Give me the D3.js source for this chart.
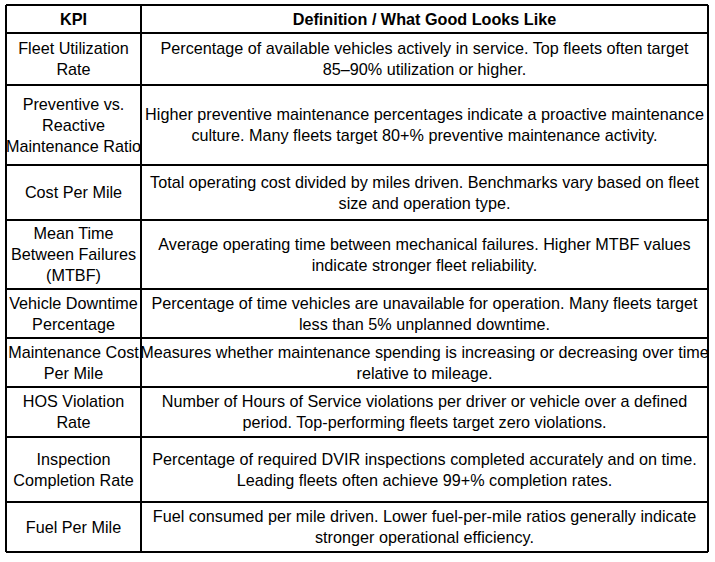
<!DOCTYPE html>
<html lang="en">
<head>
<meta charset="UTF-8">
<script src="https://cdn.jsdelivr.net/npm/d3@7"></script>
<style>
  body { margin: 0; background: #fff; }
  text { font-family: "Liberation Sans", Arial, sans-serif; font-size: 16.2px; fill: #000; }
</style>
</head>
<body>
<svg id="chart" width="715" height="562"></svg>
<script>
const headers = ["KPI", "Definition / What Good Looks Like"];
const kpis = [
  ["Fleet Utilization", "Rate"],
  ["Preventive vs.", "Reactive", "Maintenance Ratio"],
  ["Cost Per Mile"],
  ["Mean Time", "Between Failures", "(MTBF)"],
  ["Vehicle Downtime", "Percentage"],
  ["Maintenance Cost", "Per Mile"],
  ["HOS Violation", "Rate"],
  ["Inspection", "Completion Rate"],
  ["Fuel Per Mile"]
];
const definitions = [
  ["Percentage of available vehicles actively in service. Top fleets often target", "85–90% utilization or higher."],
  ["Higher preventive maintenance percentages indicate a proactive maintenance", "culture. Many fleets target 80+% preventive maintenance activity."],
  ["Total operating cost divided by miles driven. Benchmarks vary based on fleet", "size and operation type."],
  ["Average operating time between mechanical failures. Higher MTBF values", "indicate stronger fleet reliability."],
  ["Percentage of time vehicles are unavailable for operation. Many fleets target", "less than 5% unplanned downtime."],
  ["Measures whether maintenance spending is increasing or decreasing over time", "relative to mileage."],
  ["Number of Hours of Service violations per driver or vehicle over a defined", "period. Top-performing fleets target zero violations."],
  ["Percentage of required DVIR inspections completed accurately and on time.", "Leading fleets often achieve 99+% completion rates."],
  ["Fuel consumed per mile driven. Lower fuel-per-mile ratios generally indicate", "stronger operational efficiency."]
];
// row boundaries
const rowEdges = [5, 33, 85, 165, 220, 289, 338, 387, 437, 502, 552];
const colEdges = [6, 141, 708];
const lineH = 21;

const svg = d3.select("#chart");
const defs = svg.append("defs");

function cell(c, r, lines, bold) {
  const x0 = colEdges[c], x1 = colEdges[c + 1];
  const y0 = rowEdges[r], y1 = rowEdges[r + 1];
  const id = `clip-${c}-${r}`;
  defs.append("clipPath").attr("id", id).append("rect")
    .attr("x", x0).attr("y", y0).attr("width", x1 - x0).attr("height", y1 - y0);
  const cy = (y0 + y1) / 2;
  const top = cy - (lines.length - 1) * lineH / 2;
  svg.append("g").attr("clip-path", `url(#${id})`)
    .selectAll("text").data(lines).join("text")
    .attr("x", (x0 + x1) / 2)
    .attr("y", (d, i) => top + i * lineH)
    .attr("dy", "0.35em")
    .attr("text-anchor", "middle")
    .attr("font-weight", bold ? "bold" : null)
    .text(d => d);
}

headers.forEach((h, c) => cell(c, 0, [h], true));
kpis.forEach((k, i) => cell(0, i + 1, k, false));
definitions.forEach((d, i) => cell(1, i + 1, d, false));

const grid = svg.append("g").attr("stroke", "#000").attr("stroke-width", 2);
grid.selectAll("line.h").data(rowEdges).join("line")
  .attr("x1", colEdges[0]).attr("x2", colEdges[2])
  .attr("y1", d => d).attr("y2", d => d);
grid.selectAll("line.v").data(colEdges).join("line")
  .attr("y1", rowEdges[0]).attr("y2", rowEdges[rowEdges.length - 1])
  .attr("x1", d => d).attr("x2", d => d);
</script>
</body>
</html>
